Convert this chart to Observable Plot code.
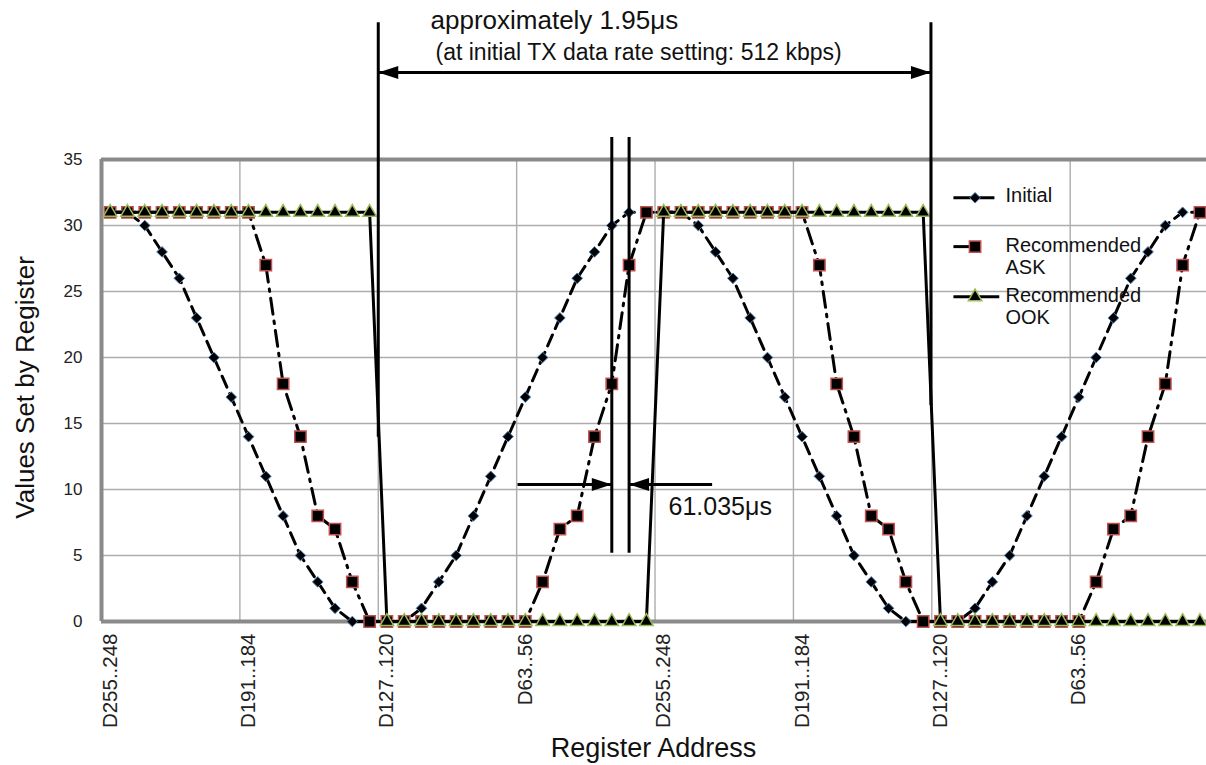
<!DOCTYPE html>
<html><head><meta charset="utf-8">
<script src="https://cdn.jsdelivr.net/npm/d3@7"></script>
<script src="https://cdn.jsdelivr.net/npm/@observablehq/plot@0.6"></script>
<style>body{margin:0;background:#fff;} #chart svg{display:block}</style>
</head><body><div id="chart"></div>
<script>
// ---- data ----
const registers = [
 "D255..248","D247..240","D239..232","D231..224","D223..216","D215..208","D207..200","D199..192",
 "D191..184","D183..176","D175..168","D167..160","D159..152","D151..144","D143..136","D135..128",
 "D127..120","D119..112","D111..104","D103..96","D95..88","D87..80","D79..72","D71..64",
 "D63..56","D55..48","D47..40","D39..32","D31..24","D23..16","D15..8","D7..0",
 "D255..248","D247..240","D239..232","D231..224","D223..216","D215..208","D207..200","D199..192",
 "D191..184","D183..176","D175..168","D167..160","D159..152","D151..144","D143..136","D135..128",
 "D127..120","D119..112","D111..104","D103..96","D95..88","D87..80","D79..72","D71..64",
 "D63..56","D55..48","D47..40","D39..32","D31..24","D23..16","D15..8","D7..0"
];
const initial = [31,31,30,28,26,23,20,17,14,11,8,5,3,1,0,0,0,0,1,3,5,8,11,14,17,20,23,26,28,30,31,31,
                 31,31,30,28,26,23,20,17,14,11,8,5,3,1,0,0,0,0,1,3,5,8,11,14,17,20,23,26,28,30,31,31];
const recommendedASK = [31,31,31,31,31,31,31,31,31,27,18,14,8,7,3,0,0,0,0,0,0,0,0,0,0,3,7,8,14,18,27,31,
                        31,31,31,31,31,31,31,31,31,27,18,14,8,7,3,0,0,0,0,0,0,0,0,0,0,3,7,8,14,18,27,31];
const recommendedOOK = [31,31,31,31,31,31,31,31,31,31,31,31,31,31,31,31,0,0,0,0,0,0,0,0,0,0,0,0,0,0,0,0,
                        31,31,31,31,31,31,31,31,31,31,31,31,31,31,31,31,0,0,0,0,0,0,0,0,0,0,0,0,0,0,0,0];
const tickLabels = ["D255..248","D191..184","D127..120","D63..56","D255..248","D191..184","D127..120","D63..56"];
const yTicks = [0,5,10,15,20,25,30,35];
const seriesNames = ["Initial","Recommended\nASK","Recommended\nOOK"];

// ---- build table ----
const rows = registers.map((r, i) => ({i, reg: r, initial: initial[i], ask: recommendedASK[i], ook: recommendedOOK[i]}));
const tickIdx = registers.map((r, i) => i).filter(i => i % 8 === 0);
const tickRows = tickIdx.map((i, k) => ({i, label: tickLabels[k]}));
const gridXPos = tickIdx.slice(1).map(i => i - 0.5);
const XMAX = 63.38;

// annotation geometry (in data units of the chart)
const vLines = [
  {x: 15.5, y1: 45.4, y2: 14.0},
  {x: 47.45, y1: 45.4, y2: 16.4},
  {x: 29, y1: 36.7, y2: 5.2},
  {x: 30, y1: 36.7, y2: 5.2}
];
const hLines = [
  {x1: 15.5, x2: 47.45, y: 41.6},
  {x1: 23.55, x2: 29, y: 10.38},
  {x1: 34.8, x2: 30, y: 10.38}
];
const heads = [
  {x: 15.5, y: 41.6, rot: 180},
  {x: 47.45, y: 41.6, rot: 0},
  {x: 29, y: 10.38, rot: 0},
  {x: 30, y: 10.38, rot: 180}
];
const arrowHead = {draw(ctx) { ctx.moveTo(0, 0); ctx.lineTo(-20, -6.5); ctx.lineTo(-20, 6.5); ctx.closePath(); }};

// legend geometry
const legendLines = [
  {x1: 48.75, x2: 51.12, y: 32.1},
  {x1: 48.75, x2: 50.0, y: 28.4},
  {x1: 48.75, x2: 51.4, y: 24.6}
];
const legendText = [
  {x: 51.76, y: 32.27, t: seriesNames[0]},
  {x: 51.76, y: 28.48, t: seriesNames[1].split("\n")[0]},
  {x: 51.76, y: 26.8, t: seriesNames[1].split("\n")[1]},
  {x: 51.76, y: 24.7, t: seriesNames[2].split("\n")[0]},
  {x: 51.76, y: 23.03, t: seriesNames[2].split("\n")[1]}
];

const font = "'Liberation Sans', Arial, sans-serif";
const gridColor = "#adadad";
const frameColor = "#8a8a8a";
const symInitial = {symbol: "diamond2", r: 4.8, fill: "black", stroke: "#4f81bd", strokeWidth: 1};
const symASK = {symbol: "square", r: 6.4, fill: "black", stroke: "#c0504d", strokeWidth: 1.5};
const symOOK = {symbol: "triangle", r: 5.0, fill: "black", stroke: "#9bbb59", strokeWidth: 1.5};

const chart = Plot.plot({
  width: 1206, height: 765,
  marginLeft: 101, marginRight: 0, marginTop: 159, marginBottom: 144,
  style: {fontFamily: font, background: "#fff", overflow: "visible"},
  x: {type: "linear", domain: [-0.5, XMAX], axis: null},
  y: {domain: [0, 35], axis: null},
  marks: [
    // grid
    Plot.ruleY([5,10,15,20,25,30], {x1: -0.5, x2: XMAX, stroke: gridColor, strokeWidth: 1.4}),
    Plot.ruleX(gridXPos, {y1: 0, y2: 35, stroke: gridColor, strokeWidth: 1.4}),
    // frame
    Plot.ruleY([0, 35], {x1: -0.5, x2: XMAX, stroke: frameColor, strokeWidth: 4}),
    Plot.ruleX([-0.5], {y1: 0, y2: 35, stroke: frameColor, strokeWidth: 4}),
    // axes
    Plot.axisY({ticks: yTicks, tickSize: 0, tickPadding: 19, fontSize: 17, fill: "#222"}),
    Plot.text(tickRows, {x: "i", y: 0, text: "label", rotate: -90, textAnchor: "end", lineAnchor: "middle", dy: 12, fontSize: 20.5, fill: "#222"}),
    Plot.text([{x: 31.41, y: -9.62, t: "Register Address"}], {x: "x", y: "y", text: "t", fontSize: 27, fill: "#111"}),
    Plot.text([{x: -4.89, y: 17.73, t: "Values Set by Register"}], {x: "x", y: "y", text: "t", rotate: -90, fontSize: 26, fill: "#111"}),
    // Initial series
    Plot.line(rows, {x: "i", y: "initial", stroke: "black", strokeWidth: 3, strokeDasharray: "12,7"}),
    Plot.dot(rows, {x: "i", y: "initial", ...symInitial}),
    // Recommended ASK
    Plot.line(rows, {x: "i", y: "ask", stroke: "black", strokeWidth: 3, strokeDasharray: "16,7,2.5,7"}),
    Plot.dot(rows, {x: "i", y: "ask", ...symASK}),
    // Recommended OOK
    Plot.line(rows, {x: "i", y: "ook", stroke: "black", strokeWidth: 3}),
    Plot.dot(rows, {x: "i", y: "ook", ...symOOK}),
    // annotations
    Plot.link(vLines, {x1: "x", x2: "x", y1: "y1", y2: "y2", stroke: "black", strokeWidth: 3}),
    Plot.link(hLines, {x1: "x1", x2: "x2", y1: "y", y2: "y", stroke: "black", strokeWidth: 3}),
    Plot.dot(heads, {x: "x", y: "y", rotate: "rot", symbol: arrowHead, r: 5, fill: "black", stroke: "none"}),
    Plot.text([{x: 18.52, y: 45.5, t: "approximately 1.95μs"}], {x: "x", y: "y", text: "t", textAnchor: "start", fontSize: 26, fill: "#111"}),
    Plot.text([{x: 18.81, y: 43.1, t: "(at initial TX data rate setting: 512 kbps)"}], {x: "x", y: "y", text: "t", textAnchor: "start", fontSize: 23, fill: "#111"}),
    Plot.text([{x: 32.28, y: 8.64, t: "61.035μs"}], {x: "x", y: "y", text: "t", textAnchor: "start", fontSize: 25, fill: "#111"}),
    // legend
    Plot.link(legendLines, {x1: "x1", x2: "x2", y1: "y", y2: "y", stroke: "black", strokeWidth: 3}),
    Plot.dot([{x: 50.0, y: 32.1}], {x: "x", y: "y", ...symInitial}),
    Plot.dot([{x: 50.0, y: 28.4}], {x: "x", y: "y", ...symASK}),
    Plot.dot([{x: 50.0, y: 24.6}], {x: "x", y: "y", ...symOOK}),
    Plot.text(legendText, {x: "x", y: "y", text: "t", textAnchor: "start", fontSize: 20, fill: "#111"})
  ]
});
document.getElementById("chart").appendChild(chart);
</script>
</body></html>
